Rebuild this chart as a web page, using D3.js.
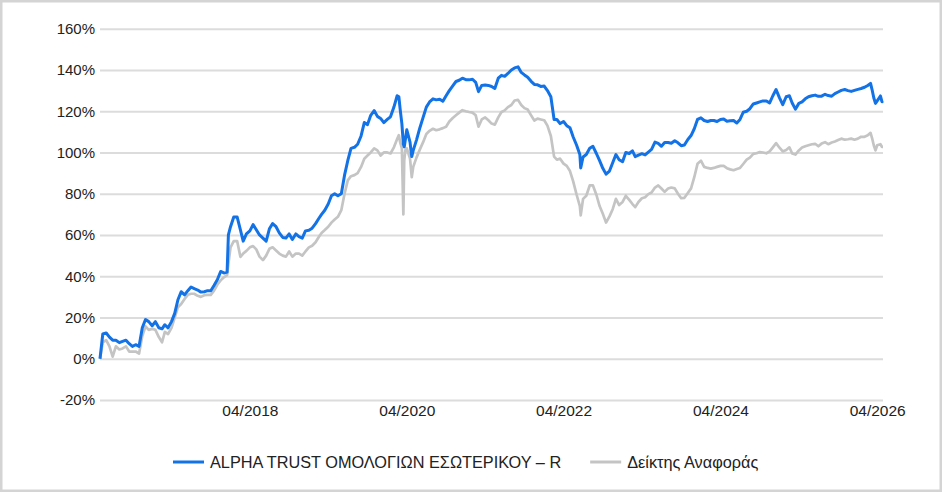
<!DOCTYPE html>
<html>
<head>
<meta charset="utf-8">
<script src="https://cdn.jsdelivr.net/npm/d3@7"></script>
<style>
  html, body { margin: 0; padding: 0; background: #fff; }
  svg { display: block; font-family: "Liberation Sans", Arial, sans-serif; }
</style>
</head>
<body>
<svg id="chart" width="942" height="492"></svg>
<script>
// Observation dates (roughly twice a month), shared by both series
const dates = [
  "2016-05-03","2016-05-16","2016-06-01","2016-06-16","2016-07-01","2016-07-16","2016-08-01","2016-08-16","2016-09-01","2016-09-16","2016-10-01","2016-10-16","2016-11-01","2016-11-16","2016-12-01","2016-12-16",
  "2017-01-01","2017-01-16","2017-02-01","2017-02-16","2017-03-01","2017-03-16","2017-04-01","2017-04-16","2017-05-01","2017-05-16","2017-06-01","2017-06-16","2017-07-01","2017-07-16","2017-08-01","2017-08-16","2017-09-01","2017-09-16","2017-10-01","2017-10-16","2017-11-01","2017-11-16","2017-12-01","2017-12-16","2017-12-22",
  "2018-01-01","2018-01-16","2018-02-01","2018-02-16","2018-03-01","2018-03-16","2018-04-01","2018-04-16","2018-05-01","2018-05-16","2018-06-01","2018-06-16","2018-07-01","2018-07-16","2018-08-01","2018-08-16","2018-09-01","2018-09-16","2018-10-01","2018-10-16","2018-11-01","2018-11-16","2018-12-01","2018-12-16",
  "2019-01-01","2019-01-16","2019-02-01","2019-02-16","2019-03-01","2019-03-16","2019-04-01","2019-04-16","2019-05-01","2019-05-16","2019-06-01","2019-06-16","2019-07-01","2019-07-16","2019-08-01","2019-08-16","2019-09-01","2019-09-16","2019-10-01","2019-10-16","2019-11-01","2019-11-16","2019-12-01","2019-12-16",
  "2020-01-01","2020-01-16","2020-02-01","2020-02-16","2020-02-24","2020-03-01","2020-03-09","2020-03-16","2020-03-20","2020-03-25","2020-04-01","2020-04-16","2020-04-24","2020-05-01","2020-05-16","2020-06-01","2020-06-16","2020-07-01","2020-07-16","2020-08-01","2020-08-16","2020-09-01","2020-09-16","2020-10-01","2020-10-16","2020-11-01","2020-11-16","2020-12-01","2020-12-16",
  "2021-01-01","2021-01-16","2021-02-01","2021-02-16","2021-03-01","2021-03-16","2021-04-01","2021-04-16","2021-05-01","2021-05-16","2021-06-01","2021-06-16","2021-07-01","2021-07-16","2021-08-01","2021-08-16","2021-09-01","2021-09-16","2021-10-01","2021-10-16","2021-11-01","2021-11-16","2021-12-01","2021-12-16",
  "2022-01-01","2022-01-16","2022-02-01","2022-02-16","2022-03-01","2022-03-16","2022-04-01","2022-04-16","2022-05-01","2022-05-16","2022-06-01","2022-06-16","2022-06-20","2022-07-01","2022-07-16","2022-08-01","2022-08-16","2022-09-01","2022-09-16","2022-10-01","2022-10-16","2022-11-01","2022-11-16","2022-12-01","2022-12-16",
  "2023-01-01","2023-01-16","2023-02-01","2023-02-16","2023-03-01","2023-03-16","2023-04-01","2023-04-16","2023-05-01","2023-05-16","2023-06-01","2023-06-16","2023-07-01","2023-07-16","2023-08-01","2023-08-16","2023-09-01","2023-09-16","2023-10-01","2023-10-16","2023-11-01","2023-11-16","2023-12-01","2023-12-16",
  "2024-01-01","2024-01-16","2024-02-01","2024-02-16","2024-03-01","2024-03-16","2024-04-01","2024-04-16","2024-05-01","2024-05-16","2024-06-01","2024-06-16","2024-07-01","2024-07-16","2024-08-01","2024-08-16","2024-09-01","2024-09-16","2024-10-01","2024-10-16","2024-11-01","2024-11-16","2024-12-01","2024-12-16",
  "2025-01-01","2025-01-16","2025-02-01","2025-02-16","2025-03-01","2025-03-16","2025-04-01","2025-04-16","2025-05-01","2025-05-16","2025-06-01","2025-06-16","2025-07-01","2025-07-16","2025-08-01","2025-08-16","2025-09-01","2025-09-16","2025-10-01","2025-10-16","2025-11-01","2025-11-16","2025-12-01","2025-12-16",
  "2026-01-01","2026-01-16","2026-02-01","2026-02-16","2026-03-01","2026-03-08","2026-03-16","2026-03-24","2026-04-01","2026-04-16","2026-04-23","2026-04-28"
];

// Cumulative return of the fund, %
const fundValues = [
  0,12,12.5,10.5,9,9,7.8,8.4,9,7.3,6,6.8,6,15,19,18,
  16,18,15,14.5,16.5,15,18,22,28.6,32.5,31,33,34.8,34,33.3,32.3,32.5,33,33,35.5,38.4,42.3,41.6,42,60,
  64,68.7,68.7,62.5,57,60.5,62,65,62.5,60,58.5,57,63,65.5,64,61,58.8,58.5,60.5,57.8,60.5,59.2,58.5,62,
  62.3,63.3,65.5,68,70,72,75,79,80,79,80,89,96,102,102.5,104,108,114.5,113.5,118,120.3,117.5,116.5,114.5,
  116,117.3,122,127.5,127,121,114,104,102.7,106,111,105,98,101,106,112,117,122,124.5,126,125.5,125.8,124.8,127.5,130,132.3,134.4,135,136,
  135.3,135.2,135.5,134,129.5,132.5,132.7,132.5,132,131,136,137.4,136.9,138.3,140,141,141.5,138.8,137.6,136.5,134.5,133,132.8,132,
  132.2,130,127,116,116,114,115,113,112,107.5,103.5,99,92.5,97.8,99,102,103,99.5,96,92.3,89.5,91,95,99,96.5,
  95.5,100,99.5,100.8,98,98.7,99.4,98.8,100.2,101.5,105,104.4,103,104.8,104.8,104.5,105.7,104.7,103.3,103.6,106.3,108.2,111.5,116,
  116.8,115.5,115,115.5,115.5,115,116,116.2,115.1,115.4,115.5,114.3,116,119.5,120,121.2,123.5,124,124.5,125,125,124,127.5,130.5,
  126.5,123.2,127,127.5,124,121,123.8,124.5,126,127,127.5,127.8,127.2,127.3,128.2,127.6,127.3,128.5,129.3,130.1,130.5,130,129.6,130.1,
  130.6,131,131.6,132.5,133.5,130.5,126.5,123.8,125,127.4,124.6,125
];

// Cumulative return of the reference index, %
const benchmarkValues = [
  0,8,9,6,1,6,4.5,5,6,3.5,3.5,3.5,2.5,11,15.7,14,
  14.5,14,10.5,8,13,12,15,20,25,26.5,29,31,31.5,31.5,30.5,30,30.8,31,31,33,36,38,39.5,40.5,46,
  54,57,57,49.4,51,52.3,54,54.6,53,49.5,47.8,50,53.3,54,52.5,51,50,49.5,52,49.5,51,51,50,52,
  54,54.8,56.5,59,61,62.4,64,66,67.5,68.8,72,80,86.5,88.5,89,90,93,97,98.5,100,102,101,98.5,100,
  100,99.5,102.5,106.5,108.4,105,102,70,96,101,102,97,88,93,97.5,101.5,105,109,110.5,111.5,110.8,111.2,111.8,112.5,115,116.7,118,119.3,120.5,
  120,119.6,119.3,118,112.5,116,117,115.6,114,113.5,117,119.6,120.4,122,123,125.2,125.5,123,121.5,120.8,118,115.5,116.4,116,
  115.6,113,108,98,96.5,97,94.6,93.5,91,86,79.5,74,69.5,77.5,79,84,84,79.5,74,70.3,66,69,72.5,77.5,74.5,
  76,79,77,75,73.5,76,77.8,78.3,79.8,80.6,83,84,82.5,80.9,82.5,83,82.6,80,77.8,78,80.4,82.6,88,94.5,
  96,93,92.5,92.2,92.5,93,93.5,93.5,92.4,91.8,91.4,92,92.5,94.4,96.5,97.5,99.3,99.6,100.2,100,99.6,100.5,102.5,104.5,
  102.3,100.5,101.2,102.5,99.5,99,101,102.4,103,103.5,104,104.2,103,104.3,105,104,104.8,105.3,106,106.7,106.2,106.4,106.7,106.2,
  106.7,107.6,107.6,108.3,109.5,107,103.5,101,103.5,104,102.7,102.7
];

const seriesNames = ["ALPHA TRUST ΟΜΟΛΟΓΙΩΝ ΕΣΩΤΕΡΙΚΟΥ – R", "Δείκτης Αναφοράς"];
const seriesColors = ["#1272e6", "#c4c4c4"];
const yTicks = [-20, 0, 20, 40, 60, 80, 100, 120, 140, 160];
const xTickDates = ["2018-04-01", "2020-04-01", "2022-04-01", "2024-04-01", "2026-04-01"];

const parse = d3.timeParse("%Y-%m-%d");
const parsedDates = dates.map(parse);

const svg = d3.select("#chart");
const W = 942, H = 492;
const plot = { left: 100, right: 883, top: 28.7, bottom: 400 };

// outer frame
svg.append("rect")
  .attr("x", 1.25).attr("y", 1.25)
  .attr("width", W - 2.5).attr("height", H - 2.5)
  .attr("fill", "#fff").attr("stroke", "#d4d4d4").attr("stroke-width", 2.5);

const x = d3.scaleTime()
  .domain([parsedDates[0], parsedDates[parsedDates.length - 1]])
  .range([plot.left, plot.right]);

const y = d3.scaleLinear()
  .domain([-20, 160])
  .range([plot.bottom, plot.top]);

// horizontal gridlines + value labels
const yAxis = svg.append("g")
  .attr("transform", `translate(${plot.left},0)`)
  .call(d3.axisLeft(y)
    .tickValues(yTicks)
    .tickSize(-(plot.right - plot.left))
    .tickPadding(5)
    .tickFormat(d => d + "%"));
yAxis.select(".domain").remove();
yAxis.selectAll(".tick line").attr("stroke", "#dcdcdc").attr("stroke-width", 2);
yAxis.selectAll(".tick text")
  .attr("fill", "#222").style("font-size", "15px")
  .style("font-family", "'Liberation Sans', Arial, sans-serif");

// date labels
const xAxis = svg.append("g")
  .attr("transform", `translate(0,${plot.bottom})`)
  .call(d3.axisBottom(x)
    .tickValues(xTickDates.map(parse))
    .tickSize(0)
    .tickPadding(5)
    .tickFormat(d3.timeFormat("%m/%Y")));
xAxis.select(".domain").remove();
xAxis.selectAll(".tick text")
  .attr("fill", "#222").style("font-size", "15.5px")
  .style("font-family", "'Liberation Sans', Arial, sans-serif");

// series lines (reference index underneath the fund)
const line = d3.line()
  .x((d, i) => x(parsedDates[i]))
  .y(d => y(d));

svg.append("path")
  .datum(benchmarkValues)
  .attr("fill", "none")
  .attr("stroke", seriesColors[1])
  .attr("stroke-width", 2.7)
  .attr("stroke-linejoin", "round")
  .attr("d", line);

svg.append("path")
  .datum(fundValues)
  .attr("fill", "none")
  .attr("stroke", seriesColors[0])
  .attr("stroke-width", 3)
  .attr("stroke-linejoin", "round")
  .attr("d", line);

// legend
const legend = svg.append("g").attr("transform", "translate(173,462)");
let cursor = 0;
seriesNames.forEach((name, i) => {
  const item = legend.append("g").attr("transform", `translate(${cursor},0)`);
  item.append("line")
    .attr("x1", 0).attr("x2", 31).attr("y1", 0).attr("y2", 0)
    .attr("stroke", seriesColors[i]).attr("stroke-width", 3);
  const t = item.append("text")
    .attr("x", 37).attr("y", 5.8)
    .attr("fill", "#222")
    .style("font-size", "16.3px")
    .text(name);
  cursor += 37 + t.node().getComputedTextLength() + 29;
});
</script>
</body>
</html>
